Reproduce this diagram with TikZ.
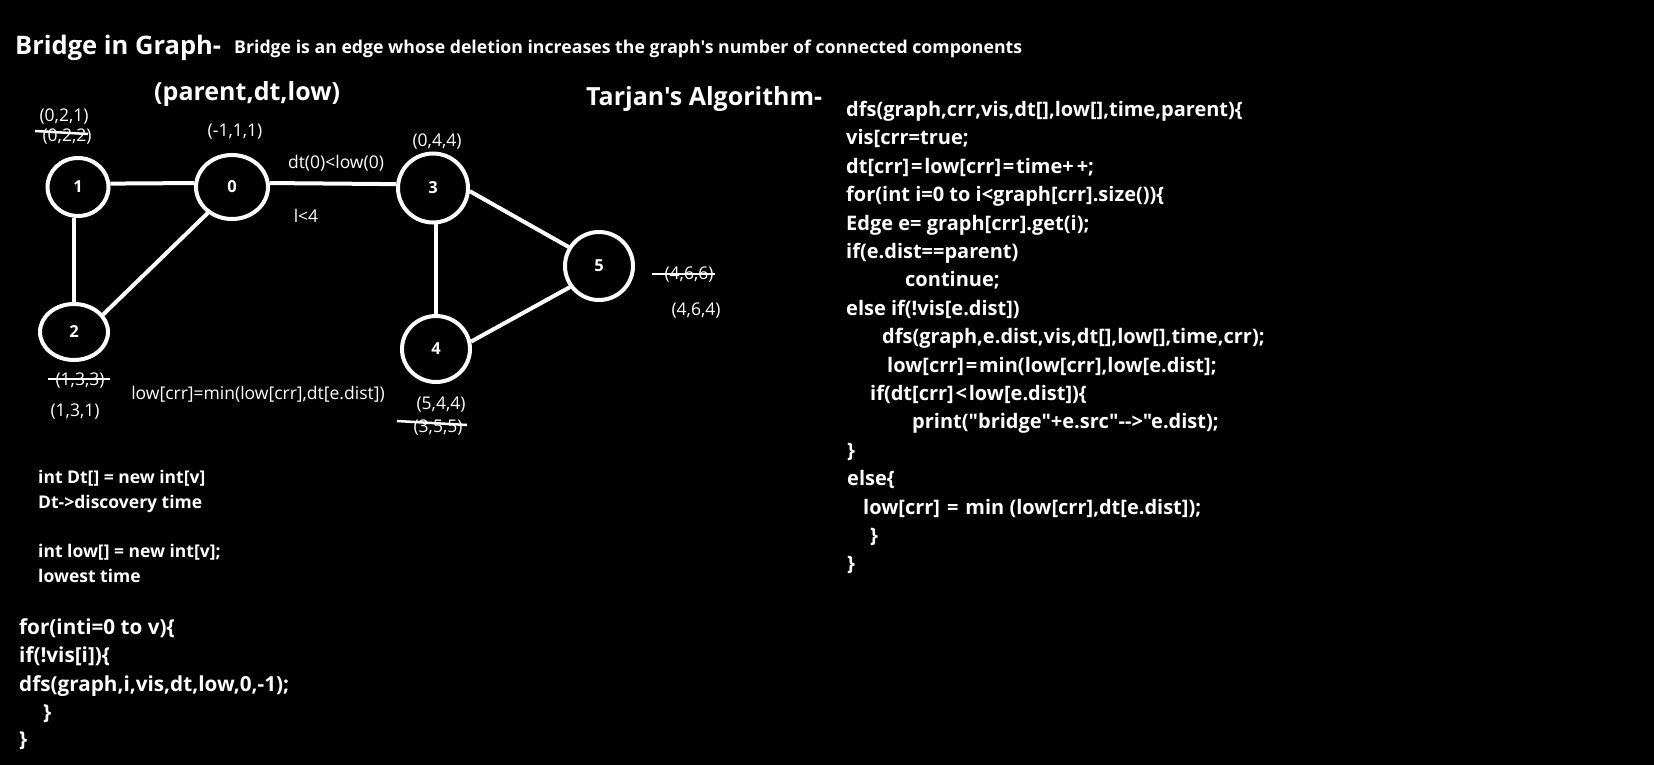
\documentclass[tikz,border=0pt]{standalone}
\usepackage{fontspec}
\setmainfont{Open Sans}[Ligatures=TeXOff]
\usetikzlibrary{shapes.geometric}
\newcommand{\opk}[1]{\kern1.8pt#1\kern1.8pt\relax}
\tikzset{
  vtx/.style={ellipse, draw=white, line width=4pt, inner sep=0pt, text=white,
    font=\bfseries\fontsize{16.5}{16.5}\selectfont},
  link/.style={draw=white, line width=4pt},
  ann/.style={text=white, inner sep=0pt, font=\fontsize{17.5}{17.5}\selectfont},
  strike/.style={draw=white, line width=2.5pt},
  codeA/.style={text=white, anchor=west, inner sep=0pt, text height=14pt, text depth=4pt,
    font=\bfseries\fontsize{17.5}{17.5}\selectfont},
  codeB/.style={text=white, anchor=west, inner sep=0pt, text height=16pt, text depth=5pt,
    font=\bfseries\fontsize{20.7}{20.7}\selectfont},
  codeR/.style={text=white, anchor=west, inner sep=0pt, text height=16pt, text depth=5pt,
    font=\bfseries\fontsize{20}{20}\selectfont},
  ttl/.style={text=white, anchor=west, inner sep=0pt, font=\bfseries\fontsize{25.5}{25.5}\selectfont},
}
\begin{document}
\begin{tikzpicture}[x=1pt,y=-1pt]
\fill[black] (0,0) rectangle (1654,765);
\useasboundingbox (0,0) rectangle (1654,765);

% titles
\node[ttl] (t1) at (15,48) {Bridge in Graph-};
\node[ttl, font=\bfseries\fontsize{17.7}{17.7}\selectfont] (t2) at (234,49) {Bridge is an edge whose deletion increases the graph's number of connected components};
\node[ttl, font=\bfseries\fontsize{25}{25}\selectfont] (t3) at (154,94) {(parent,dt,low)};
\node[ttl, font=\bfseries\fontsize{25}{25}\selectfont] (t4) at (586,99) {Tarjan's Algorithm-};

% graph vertices
\node[vtx, minimum width=61pt, minimum height=58pt] (n1) at (78,187) {1};
\node[vtx, minimum width=72pt, minimum height=64pt] (n0) at (232,187) {0};
\node[vtx, minimum width=70pt, minimum height=69pt] (n3) at (433,188) {3};
\node[vtx, minimum width=68pt, minimum height=68pt] (n5) at (599,266) {5};
\node[vtx, minimum width=68pt, minimum height=56pt] (n2) at (74,332) {2};
\node[vtx, minimum width=68pt, minimum height=66pt] (n4) at (436,349) {4};

% edges
\draw[link] (n1.6) -- (n0.174);
\draw[link] (n0.6) -- (n3.174);
\draw[link] (n2.north |- n1.265) -- (n2.north);
\draw[link] (n0.227) -- (n2.31);
\draw[link] (n3.-5) -- (n5.148);
\draw[link] (n4.north |- n3.-80) -- (n4.north);
\draw[link] (n4.12) -- (n5.216);

% annotations
\node[ann] (a021) at (64,117) {(0,2,1)};
\node[ann] (a022) at (67,137) {(0,2,2)};
\draw[strike] (35,131) -- (88,134);
\node[ann] (a111) at (235,132) {(-1,1,1)};
\node[ann] (a044) at (437,142) {(0,4,4)};
\node[ann] (cmp) at (336,163) {dt(0)<low(0)};
\node[ann] (lt) at (306,216) {l<4};
\node[ann] (a466) at (689,275) {(4,6,6)};
\draw[strike] (652,274) -- (715,274);
\node[ann] (a464) at (696,311) {(4,6,4)};
\node[ann] (a133) at (80,381) {(1,3,3)};
\draw[strike] (48,379) -- (110,379);
\node[ann] (a131) at (75,412) {(1,3,1)};
\node[ann] (lowf) at (258,394) {low[crr]=min(low[crr],dt[e.dist])};
\node[ann] (a544) at (441,405) {(5,4,4)};
\node[ann] (a355) at (438,428) {(3,5,5)};
\draw[strike] (397,421) -- (467,425);

% left code
\node[codeA] (l1) at (38,478) {int Dt[] = new int[v]};
\node[codeA] (l2) at (38,503) {Dt->discovery time};
\node[codeA] (l3) at (38,552) {int low[] = new int[v];};
\node[codeA] (l4) at (38,577) {lowest time};
\node[codeB] (m1) at (19,629) {for(inti=0 to v)\{};
\node[codeB] (m2) at (19,657) {if(!vis[i])\{};
\node[codeB] (m3) at (19,686) {dfs(graph,i,vis,dt,low,0,-1);};
\node[codeB] (m4) at (43,714) {\}};
\node[codeB] (m5) at (19,741) {\}};

% right code
\node[codeR] (r1) at (846,111) {dfs(graph,crr,vis,dt[],low[],time,parent)\{};
\node[codeR] (r2) at (846,139) {vis[crr=true;};
\node[codeR] (r3) at (846,168) {dt[crr]\opk{=}low[crr]\opk{=}time+\kern3pt+;};
\node[codeR] (r4) at (846,196) {for(int i=0 to i<graph[crr].size())\{};
\node[codeR] (r5) at (846,225) {Edge e= graph[crr].get(i);};
\node[codeR] (r6) at (846,253) {if(e.dist==parent)};
\node[codeR] (r7) at (905,281) {continue;};
\node[codeR] (r8) at (846,310) {else if(!vis[e.dist])};
\node[codeR] (r9) at (882,338) {dfs(graph,e.dist,vis,dt[],low[],time,crr);};
\node[codeR] (r10) at (887,367) {low[crr]\opk{=}min(low[crr],low[e.dist];};
\node[codeR] (r11) at (870,395) {if(dt[crr]\opk{<}low[e.dist])\{};
\node[codeR] (r12) at (912,423) {print("bridge"+e.src"-->"e.dist);};
\node[codeR] (r13) at (847,452) {\}};
\node[codeR] (r14) at (847,480) {else\{};
\node[codeR] (r15) at (863,509) {low[crr] \opk{=} min (low[crr],dt[e.dist]);};
\node[codeR] (r16) at (870,537) {\}};
\node[codeR] (r17) at (847,565) {\}};
\end{tikzpicture}
\end{document}
